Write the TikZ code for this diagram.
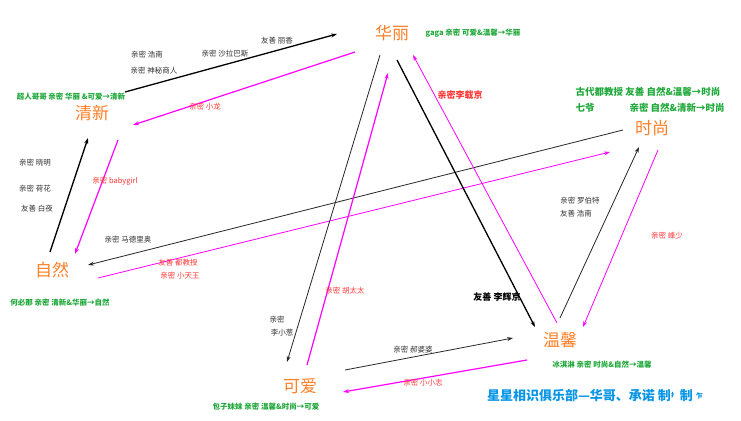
\documentclass[tikz,border=0pt]{standalone}
\usepackage{fontspec}
\setmainfont{Noto Sans CJK SC}
\usepackage{xcolor}
\usepackage{tikz}
\usetikzlibrary{arrows.meta, calc}

\definecolor{titleorange}{HTML}{FF7F27}
\definecolor{relgreen}{HTML}{1FA83A}
\definecolor{relred}{HTML}{FF3535}
\definecolor{relgray}{HTML}{333333}
\definecolor{clubblue}{HTML}{0A96E6}
\definecolor{linkpink}{HTML}{FF00FF}

\begin{document}
\begin{tikzpicture}[
    x=1pt, y=-1pt,
    groupnode/.style={
        inner sep=0pt,
        text=titleorange,
        font=\fontsize{17}{17}\selectfont
    },
    graylabel/.style={inner sep=0pt, text=relgray, font=\fontsize{7.5}{8}\selectfont},
    redlabel/.style={inner sep=0pt, text=relred, font=\fontsize{7.5}{8}\selectfont},
    greenlabel/.style={inner sep=0pt, text=relgreen, font=\fontsize{7.5}{8}\selectfont\bfseries},
    biggreen/.style={inner sep=0pt, text=relgreen, font=\fontsize{9.5}{10}\selectfont\bfseries},
    blackline/.style={-{Stealth[length=6pt,width=4pt]}, line width=1.3pt, black},
    thinblack/.style={-{Stealth[length=6pt,width=4pt]}, line width=0.8pt, black!85},
    pinkline/.style={-{Stealth[length=6pt,width=4pt]}, line width=1.2pt, linkpink},
    thinpink/.style={-{Stealth[length=6pt,width=4pt]}, line width=0.8pt, linkpink}
]
    \useasboundingbox (0,0) rectangle (741,420);

    % Groups
    \node[groupnode] (hl) at (392,33) {华丽};
    \node[groupnode] (qx) at (92,113) {清新};
    \node[groupnode] (ss) at (652,128) {时尚};
    \node[groupnode] (zr) at (52,270) {自然};
    \node[groupnode] (wx) at (560,340) {温馨};
    \node[groupnode] (ka) at (300,386) {可爱};

    % Arrows
    \draw[blackline] ([shift={(33,-21)}]qx.center) -- ([shift={(-55,1)}]hl.center);
    \draw[pinkline] ([shift={(-37,19)}]hl.center) -- ([shift={(41,12)}]qx.center);
    \draw[blackline] ([shift={(-2,-18)}]zr.center) -- ([shift={(-4,25)}]qx.center);
    \draw[pinkline] ([shift={(26,27)}]qx.center) -- ([shift={(23,-16)}]zr.center);
    \draw[thinblack] ([shift={(-29,2)}]ss.center) -- ([shift={(36,-5)}]zr.center);
    \draw[thinpink] ([shift={(46,8)}]zr.center) -- ([shift={(-42,24)}]ss.center);
    \draw[thinblack] ([shift={(-12,22)}]hl.center) -- ([shift={(-13,-24)}]ka.center);
    \draw[pinkline] ([shift={(7,-21)}]ka.center) -- ([shift={(-4,40)}]hl.center);
    \draw[blackline] ([shift={(5,27)}]hl.center) -- ([shift={(-25,-13)}]wx.center);
    \draw[thinpink] ([shift={(-3,-17)}]wx.center) -- ([shift={(21,22)}]hl.center);
    \draw[thinblack] ([shift={(0,-22)}]wx.center) -- ([shift={(-13,19)}]ss.center);
    \draw[thinpink] ([shift={(6,22)}]ss.center) -- ([shift={(23,-13)}]wx.center);
    \draw[thinblack] ([shift={(45,-16)}]ka.center) -- ([shift={(-47,-2)}]wx.center);
    \draw[pinkline] ([shift={(-33,20)}]wx.center) -- ([shift={(43,6)}]ka.center);

    % Relation labels
    \node[graylabel] (l1) at (277,41) {友善 丽香};
    \node[graylabel] (l2) at (147,55) {亲密 浩南};
    \node[graylabel] (l3) at (225,54) {亲密 沙拉巴斯};
    \node[graylabel] (l4) at (154,71) {亲密 神秘商人};
    \node[redlabel] (l5) at (205,107) {亲密 小龙};
    \node[graylabel] (l6) at (35,163) {亲密 晓明};
    \node[graylabel] (l7) at (35,189) {亲密 荷花};
    \node[graylabel] (l8) at (37,209) {友善 白夜};
    \node[redlabel] (l9) at (115,181) {亲密 babygirl};
    \node[graylabel] (l10) at (128,240) {亲密 马德里奥};
    \node[redlabel] (l11) at (178,263) {友善 都教授};
    \node[redlabel] (l12) at (180,276) {亲密 小天王};
    \node[graylabel] (l13) at (580,201) {亲密 罗伯特};
    \node[graylabel] (l14) at (576,214) {友善 浩南};
    \node[redlabel] (l15) at (667,236) {亲密 峰少};
    \node[redlabel] (l16) at (345,291) {亲密 胡太太};
    \node[graylabel] (l17) at (277,320) {亲密};
    \node[graylabel] (l18) at (282,333) {李小葱};
    \node[graylabel] (l19) at (413,350) {亲密 郝婆婆};
    \node[redlabel] (l20) at (423,383) {亲密 小小志};
    \node[inner sep=0pt, text=relred, font=\fontsize{9}{10}\selectfont\bfseries] (l21) at (460,95) {亲密李载京};
    \node[inner sep=0pt, text=black, font=\fontsize{9}{10}\selectfont\bfseries] (l22) at (497,297) {友善 李辉京};

    % Group members
    \node[greenlabel] (g1) at (71,97) {超人哥哥 亲密 华丽 \&可爱→清新};
    \node[greenlabel] (g2) at (473,33) {gaga 亲密 可爱\&温馨→华丽};
    \node[biggreen] (g3) at (648,92) {古代都教授 友善 自然\&温馨→时尚};
    \node[biggreen] (g4) at (585,108) {七爷};
    \node[biggreen] (g5) at (677,108) {亲密 自然\&清新→时尚};
    \node[greenlabel] (g6) at (60,303) {何必那 亲密 清新\&华丽→自然};
    \node[greenlabel] (g7) at (266,407) {包子妹妹 亲密 温馨\&时尚→可爱};
    \node[greenlabel] (g8) at (602,365) {冰淇淋 亲密 时尚\&自然→温馨};

    % Title
    \node[inner sep=0pt, text=clubblue, font=\fontsize{13}{14}\selectfont\bfseries] (club) at (595,396)
        {星星相识俱乐部—华哥、承诺 制\raisebox{3pt}{\fontsize{6}{6}\selectfont 扌} 制 \raisebox{2pt}{\fontsize{7}{7}\selectfont 乍}};
\end{tikzpicture}
\end{document}
